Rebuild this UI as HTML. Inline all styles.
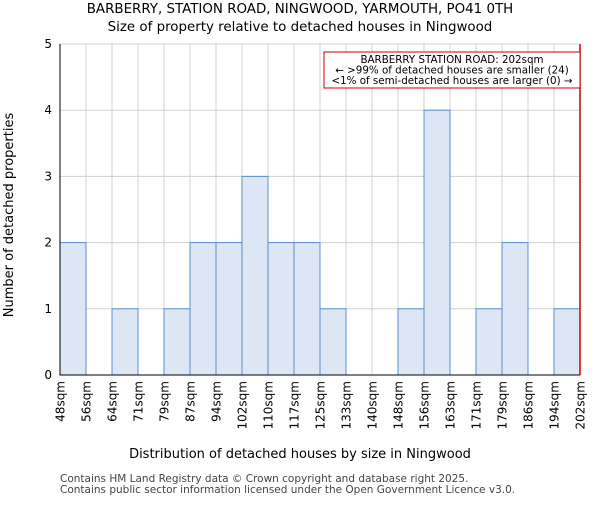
<!DOCTYPE html>
<html><head><meta charset="utf-8"><style>body{margin:0;background:#fff}svg{font-family:"DejaVu Sans","Liberation Sans",sans-serif}</style></head>
<body>
<svg id="c" width="600" height="500" xmlns="http://www.w3.org/2000/svg">
<text x="300" y="13" font-size="13.4" text-anchor="middle">BARBERRY, STATION ROAD, NINGWOOD, YARMOUTH, PO41 0TH</text>
<text x="300" y="31" font-size="13.4" text-anchor="middle">Size of property relative to detached houses in Ningwood</text>
<g id="grid"></g><g id="bars"></g><g id="axes"></g>
<text x="300" y="458" font-size="13" text-anchor="middle">Distribution of detached houses by size in Ningwood</text>
<text transform="translate(13,215) rotate(-90)" font-size="13" text-anchor="middle">Number of detached properties</text>
<text x="60" y="482" font-size="10.5" fill="#444">Contains HM Land Registry data © Crown copyright and database right 2025.</text>
<text x="60" y="493" font-size="10.5" fill="#444">Contains public sector information licensed under the Open Government Licence v3.0.</text>
</svg>
<script>
const binLabels=["48sqm","56sqm","64sqm","71sqm","79sqm","87sqm","94sqm","102sqm","110sqm","117sqm","125sqm","133sqm","140sqm","148sqm","156sqm","163sqm","171sqm","179sqm","186sqm","194sqm","202sqm"];
const counts=[2,0,1,0,1,2,2,3,2,2,1,0,0,1,4,0,1,2,0,1];
const yTicks=[0,1,2,3,4,5];
const markerIndex=20;
const NS="http://www.w3.org/2000/svg";
const L=60,R=580,T=44,B=375,yMax=5;
const bw=(R-L)/counts.length;
const x=i=>L+i*bw, y=v=>B-(B-T)*v/yMax;
function mk(p,tag,a){const e=document.createElementNS(NS,tag);for(const k in a)e.setAttribute(k,a[k]);document.getElementById(p).appendChild(e);return e;}
binLabels.forEach((lab,i)=>{
 const g=mk('grid','line',{x1:x(i),x2:x(i),y1:T,y2:B,stroke:'#d0d0d0','stroke-width':1});
 
 
 const t=mk('axes','text',{transform:`translate(${x(i)+4.5},${B+6}) rotate(-90)`,'font-size':12,'text-anchor':'end'});
 t.textContent=lab;
 
 
});
yTicks.forEach(v=>{
 const g=mk('grid','line',{x1:L,x2:R,y1:y(v),y2:y(v),stroke:'#d0d0d0','stroke-width':1});
 
 
 const t=mk('axes','text',{x:L-8,y:y(v)+4,'font-size':12,'text-anchor':'end'});
 t.textContent=v;
 
 
});
counts.forEach((c,i)=>{
 if(!c)return;
 const r=mk('bars','rect',{x:x(i),y:y(c),width:bw,height:B-y(c),fill:'#dce6f4',stroke:'#5a8fd0','stroke-width':1});
 
 
});
const ax=mk('axes','path',{d:`M${L},${T}V${B}H${R}`,fill:'none',stroke:'#000','stroke-width':1});


const m=mk('axes','line',{x1:x(markerIndex),x2:x(markerIndex),y1:T,y2:B,stroke:'#c00','stroke-width':1.5});


const bx=mk('axes','rect',{x:324,y:52,width:256,height:36,fill:'#fff',stroke:'#c00','stroke-width':1});


["BARBERRY STATION ROAD: 202sqm","← >99% of detached houses are smaller (24)","<1% of semi-detached houses are larger (0) →"].forEach((s,k)=>{
 const t=mk('axes','text',{x:452,y:63+k*10.5,'font-size':10.3,'text-anchor':'middle'});
 t.textContent=s;
 
 
});
</script>
</body></html>
